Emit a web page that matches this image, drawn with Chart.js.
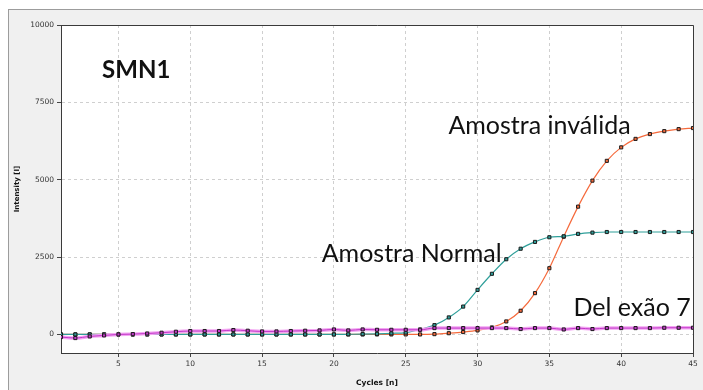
<!DOCTYPE html>
<html>
<head>
<meta charset="utf-8">
<script src="https://cdn.jsdelivr.net/npm/chart.js@4.4.1/dist/chart.umd.min.js"></script>
<style>
  html, body { margin: 0; padding: 0; background: #fff; }
  #wrap { position: relative; width: 703px; height: 390px; overflow: hidden; }
  #frame { position: absolute; left: 8px; top: 9px; width: 720px; height: 400px;
           background: #f0f0f0; border-left: 1px solid #9c9c9c; border-top: 1px solid #9c9c9c; }
  #chart { position: absolute; left: 0; top: 0; }
</style>
</head>
<body>
<div id="wrap">
  <div id="frame"></div>
  <canvas id="chart" width="703" height="390"></canvas>
</div>
<script>
// eixo x: ciclos
const cycles = [1,2,3,4,5,6,7,8,9,10,11,12,13,14,15,16,17,18,19,20,21,22,23,24,25,26,27,28,29,30,31,32,33,34,35,36,37,38,39,40,41,42,43,44,45];

// Amostra Normal (teal)
const normal = [0,0,0,0,0,0,0,0,0,0,0,0,0,0,0,0,0,0,0,0,5,10,20,35,60,160,300,550,900,1440,1960,2430,2770,2990,3140,3170,3250,3290,3310,3310,3310,3310,3310,3310,3310];

// Amostra inválida (laranja)
const invalida = [0,0,0,0,0,0,0,0,0,0,0,0,0,0,0,0,0,0,0,0,0,0,0,0,0,0,10,40,77,130,226,420,765,1335,2140,3160,4130,4970,5610,6045,6320,6475,6570,6635,6670];

// Del exão 7 (magenta)
const delecao = [-85,-117,-64,-32,0,10,30,55,87,110,110,110,142,120,97,97,110,120,130,161,130,161,150,150,150,150,205,205,205,205,205,205,174,205,205,161,205,174,205,205,205,205,216,216,216];

const xTicks = [5,10,15,20,25,30,35,40,45];
const yTicks = [0,2500,5000,7500,10000];

const labels = [
  { text: 'SMN1', x: 3.86, y: 8272, bold: true, size: 24 },
  { text: 'Amostra inválida', x: 27.97, y: 6465, size: 25 },
  { text: 'Amostra Normal', x: 19.15, y: 2336, size: 25 },
  { text: 'Del exão 7', x: 36.68, y: 603, size: 25 }
];

const pts = arr => arr.map((v, i) => ({ x: cycles[i], y: v }));

const marker = color => ({
  pointStyle: 'rect',
  pointRadius: 2.2,
  pointBorderWidth: 1,
  pointBorderColor: '#1b1b1b',
  pointBackgroundColor: color
});

// fundo branco e moldura da área do gráfico
const plotBox = {
  id: 'plotBox',
  beforeDraw(chart) {
    const { ctx, chartArea: a } = chart;
    ctx.save();
    ctx.fillStyle = '#fff';
    ctx.fillRect(a.left, a.top, a.right - a.left, a.bottom - a.top);
    ctx.restore();
  },
  beforeDatasetsDraw(chart) {
    const { ctx, chartArea: a } = chart;
    ctx.save();
    ctx.strokeStyle = '#3a3a3a';
    ctx.lineWidth = 1;
    ctx.setLineDash([]);
    ctx.beginPath();
    ctx.moveTo(a.left, a.top + 0.5);
    ctx.lineTo(a.right + 0.5, a.top + 0.5);
    ctx.lineTo(a.right + 0.5, a.bottom);
    ctx.stroke();
    ctx.restore();
  }
};

// textos sobre o gráfico
const textLabels = {
  id: 'textLabels',
  afterDraw(chart) {
    const { ctx, scales: { x, y } } = chart;
    ctx.save();
    ctx.fillStyle = '#111';
    ctx.textAlign = 'left';
    ctx.textBaseline = 'alphabetic';
    labels.forEach(l => {
      ctx.font = (l.bold ? 'bold ' : '') + l.size + 'px Lato';
      ctx.fillText(l.text, x.getPixelForValue(l.x), y.getPixelForValue(l.y));
    });
    ctx.restore();
  }
};

const tickFont = { family: 'DejaVu Sans', size: 7.5 };
const gridOpts = { color: '#cfcfcf', tickLength: 4, tickColor: '#444', tickBorderDash: [] };
const borderOpts = { color: '#3a3a3a', dash: [3, 3] };

new Chart(document.getElementById('chart'), {
  type: 'line',
  data: {
    datasets: [
      {
        data: pts(delecao), borderColor: '#c236c9', borderWidth: 1,
        cubicInterpolationMode: 'monotone', ...marker('#c236c9')
      },
      {
        data: pts(delecao), borderColor: '#f2a4f2', borderWidth: 3.5,
        cubicInterpolationMode: 'monotone', pointRadius: 0
      },
      {
        data: pts(normal), borderColor: '#2f9f9a', borderWidth: 1.2,
        cubicInterpolationMode: 'monotone', ...marker('#2f9f9a')
      },
      {
        data: pts(invalida), borderColor: '#f56a3c', borderWidth: 1.2,
        cubicInterpolationMode: 'monotone', ...marker('#f56a3c')
      }
    ]
  },
  options: {
    responsive: false,
    devicePixelRatio: 1,
    animation: false,
    layout: { padding: { left: 0, top: 25, right: 10, bottom: 0 } },
    plugins: { legend: { display: false }, tooltip: { enabled: false } },
    scales: {
      x: {
        type: 'linear', min: 1, max: 45,
        afterBuildTicks: s => { s.ticks = xTicks.map(v => ({ value: v })); },
        afterFit: s => { s.height = 37; },
        grid: gridOpts,
        border: borderOpts,
        ticks: { font: tickFont, color: '#333', padding: 3, maxRotation: 0, callback: v => String(v) },
        title: { display: true, text: 'Cycles [n]', font: { family: 'DejaVu Sans', size: 7.5, weight: 'bold' }, color: '#111', padding: { top: 0, bottom: 2 } }
      },
      y: {
        min: -600, max: 10000,
        afterBuildTicks: s => { s.ticks = yTicks.map(v => ({ value: v })); },
        afterFit: s => { s.width = 61; },
        grid: gridOpts,
        border: borderOpts,
        ticks: { font: tickFont, color: '#333', padding: 3, callback: v => String(v) },
        title: { display: true, text: 'Intensity [I]', font: { family: 'DejaVu Sans', size: 7, weight: 'bold' }, color: '#111', padding: { top: 13, bottom: 0 } }
      }
    }
  },
  plugins: [plotBox, textLabels]
});
</script>
</body>
</html>
